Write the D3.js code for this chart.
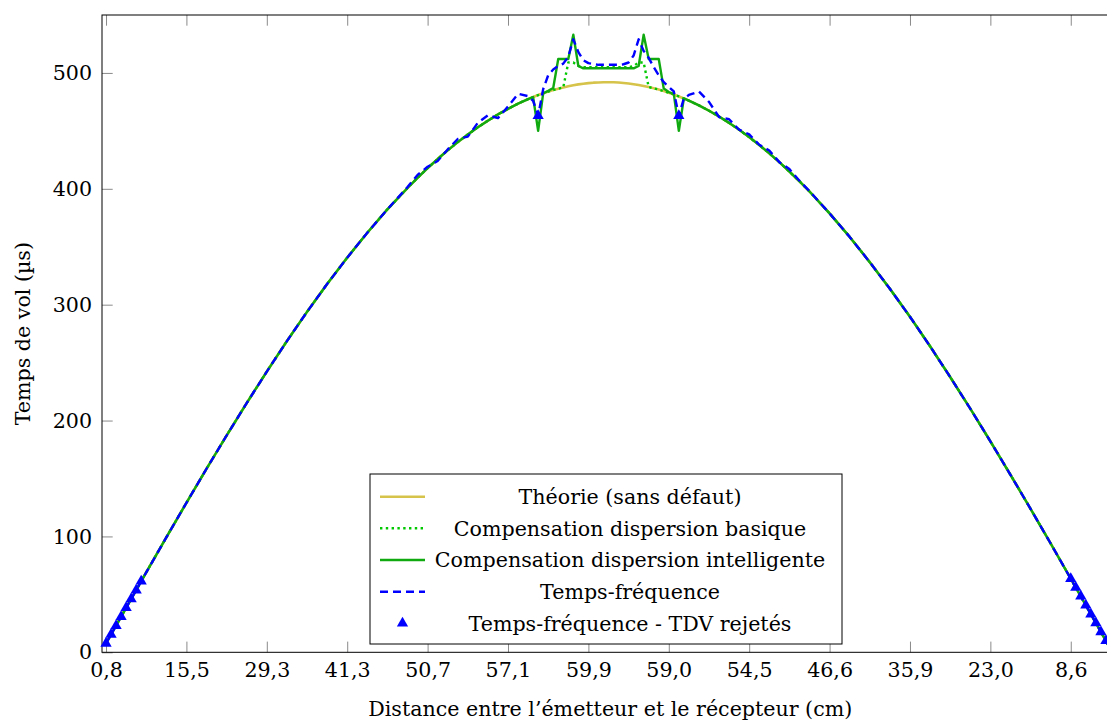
<!DOCTYPE html>
<html><head><meta charset="utf-8">
<script src="https://cdn.jsdelivr.net/npm/d3@7"></script>
<style>
body{margin:0;background:#fff}
svg{display:block}
text{font-family:"DejaVu Serif",serif;fill:#000}
</style>
</head><body>
<svg id="c" width="1107" height="722"></svg>
<script>
// ---- data (sample index along the scan, time of flight in µs) ----
const idx = [0,4,8,12,16,20,24,28,32,36,40,44,48,52,56,
  60,62,64,66,68,70,72,74,76,78,80,82,84,
  85,86,87,88,89,90,91,92,93,94,95,96,97,98,99,100,101,102,103,104,105,106,107,108,109,110,111,112,113,114,115,116,
  118,120,122,124,126,128,130,132,134,136,138,140,
  144,148,152,156,160,164,168,172,176,180,184,188,192,196,200];

const theorie = [7.7,38.4,68.9,99.1,129.0,158.4,187.1,215.1,242.3,268.6,293.8,317.8,340.6,362.1,382.3,
  400.7,409.5,417.8,425.7,433.2,440.3,446.9,453.1,458.8,464.2,469.0,473.5,477.4,
  479.2,480.9,482.4,483.9,485.2,486.4,487.5,488.5,489.4,490.1,490.7,491.2,491.6,491.8,492.0,492.0,491.9,491.7,491.3,490.9,490.3,489.6,488.8,487.8,486.8,485.6,484.3,482.9,481.4,479.7,477.9,476.1,
  472.0,467.4,462.4,456.9,451.0,444.6,437.8,430.6,423.0,414.9,406.5,397.7,
  378.8,358.5,336.7,313.7,289.6,264.1,237.6,210.3,182.1,153.2,123.8,93.9,63.5,32.9,2.2];

const basique = [7.7,38.4,68.9,99.1,129.0,158.4,187.1,215.1,242.3,268.6,293.8,317.8,340.6,362.1,382.3,
  400.7,409.5,417.8,425.7,433.2,440.3,446.9,453.1,458.8,464.2,469.0,473.5,477.4,
  479.2,480.9,482.4,483.9,485.2,486.4,487.5,509,509,506,505,505,505,505,505,505,505,505,505,505,506,509,509,487.8,486.8,485.6,484.3,482.9,481.4,479.7,477.9,476.1,
  472.0,467.4,462.4,456.9,451.0,444.6,437.8,430.6,423.0,414.9,406.5,397.7,
  378.8,358.5,336.7,313.7,289.6,264.1,237.6,210.3,182.1,153.2,123.8,93.9,63.5,32.9,2.2];

const intelligente = [7.7,38.4,68.9,99.1,129.0,158.4,187.1,215.1,242.3,268.6,293.8,317.8,340.6,362.1,382.3,
  400.7,409.5,417.8,425.7,433.2,440.3,446.9,453.1,458.8,464.2,469.0,473.5,477.4,
  479.2,450,482.4,484.5,487,512,512,512,533,506,504,504,504,504,504,504,504,504,504,504,504,506,533,512,512,512,486.5,483.5,482,450,478,476.1,
  472.0,467.4,462.4,456.9,451.0,444.6,437.8,430.6,423.0,414.9,406.5,397.7,
  378.8,358.5,336.7,313.7,289.6,264.1,237.6,210.3,182.1,153.2,123.8,93.9,63.5,32.9,2.2];

const tempsFrequence = [7.7,38.4,68.9,99.1,129.0,158.4,187.1,215.1,242.3,268.6,293.8,317.8,340.6,362.1,382.3,
  401.5,412,419,424,434,443,445,457,463.5,461,471,482,480,
  476,463,486,498,503,506,508,514,529,518,511,508.5,507.5,507,507,507,507,507,507.5,509,515,529,519,513,505,498,492,488,484,463,478,481,
  484,475,462,460,451,447,438,433,423,417,407,398,
  378.8,358.5,336.7,313.7,289.6,264.1,237.6,210.3,182.1,153.2,123.8,93.9,63.5,32.9,2.2];

const rejetesIdx = [0,1,2,3,4,5,6,7,86,114,192,193,194,195,196,197,198,199];
const rejetesVal = [7.7,15.4,23.0,30.7,38.4,46.0,53.6,61.3,463,463,63.5,55.9,48.3,40.7,32.9,25.3,17.6,10.0];

const xTickIdx = [0,16,32,48,64,80,96,112,128,144,160,176,192];
const xTickLabels = ["0,8","15,5","29,3","41,3","50,7","57,1","59,9","59,0","54,5","46,6","35,9","23,0","8,6"];
const yTicks = [0,100,200,300,400,500];

const legendLabels = ["Théorie (sans défaut)","Compensation dispersion basique","Compensation dispersion intelligente","Temps-fréquence","Temps-fréquence - TDV rejetés"];
const xTitle = "Distance entre l’émetteur et le récepteur (cm)";
const yTitle = "Temps de vol (µs)";

// ---- drawing ----
const svg = d3.select("#c");
const L = 102, T = 15, R = 1118.5, B = 652.3;
const x = d3.scaleLinear().domain([-0.8, 201.5]).range([L, R]);
const y = d3.scaleLinear().domain([0, 550]).range([B, T]);
const tickLen = 10.7, tickCol = "#8a8a8a", fs = 20.6;

// axes (ticks inward)
const gx = svg.append("g").attr("transform", `translate(0,${B})`)
  .call(d3.axisBottom(x).tickValues(xTickIdx).tickFormat((d,i)=>xTickLabels[i]).tickSize(-tickLen).tickPadding(10));
const gxt = svg.append("g").attr("transform", `translate(0,${T})`)
  .call(d3.axisTop(x).tickValues(xTickIdx).tickFormat("").tickSize(-tickLen));
const gy = svg.append("g").attr("transform", `translate(${L},0)`)
  .call(d3.axisLeft(y).tickValues(yTicks).tickSize(-tickLen).tickPadding(10));
const gyr = svg.append("g").attr("transform", `translate(${R},0)`)
  .call(d3.axisRight(y).tickValues(yTicks).tickFormat("").tickSize(-tickLen));
[gx,gxt,gy,gyr].forEach(g=>{
  g.select(".domain").remove();
  g.selectAll(".tick line").attr("stroke", tickCol).attr("stroke-width", 1);
  g.selectAll(".tick text").attr("font-family","DejaVu Serif").attr("font-size", fs).attr("fill","#000");
});

// frame
svg.append("rect").attr("x", L).attr("y", T).attr("width", R-L).attr("height", B-T)
  .attr("fill","none").attr("stroke","#000").attr("stroke-width",1);

const line = d3.line().x((d,i)=>x(idx[i])).y(d=>y(d));
const series = [
  {v: theorie, color:"#d6c34a", w:2.6, dash:null},
  {v: basique, color:"#00c800", w:2.4, dash:"2.4,3.4"},
  {v: intelligente, color:"#10aa10", w:2.4, dash:null},
  {v: tempsFrequence, color:"#0000ff", w:2.4, dash:"8,5"}
];
series.forEach(s=>{
  svg.append("path").datum(s.v).attr("d", line)
    .attr("fill","none").attr("stroke", s.color).attr("stroke-width", s.w)
    .attr("stroke-linejoin","round")
    .attr("stroke-dasharray", s.dash);
});

const tri = d3.symbol().type(d3.symbolTriangle).size(55);
svg.append("g").selectAll("path").data(rejetesIdx).join("path")
  .attr("d", tri)
  .attr("transform", (d,i)=>`translate(${x(d)},${y(rejetesVal[i])})`)
  .attr("fill","#0000ff");

// axis titles
svg.append("text").attr("x", (L+R)/2).attr("y", 716).attr("text-anchor","middle")
  .attr("font-size", fs).text(xTitle);
svg.append("text").attr("transform", `translate(30,${(T+B)/2}) rotate(-90)`).attr("text-anchor","middle")
  .attr("font-size", fs).text(yTitle);

// legend
const lg = svg.append("g");
lg.append("rect").attr("x",370).attr("y",474).attr("width",472).attr("height",170)
  .attr("fill","#fff").attr("stroke","#000").attr("stroke-width",1);
const rowY = [496.7,528.3,560,591.7,623.3];
legendLabels.forEach((lab,i)=>{
  const yy = rowY[i];
  if (i < 4) {
    const s = series[i];
    lg.append("line").attr("x1",380).attr("x2",425).attr("y1",yy).attr("y2",yy)
      .attr("stroke", s.color).attr("stroke-width", s.w).attr("stroke-dasharray", s.dash);
  } else {
    lg.append("path").attr("d", tri).attr("transform", `translate(402.5,${yy})`).attr("fill","#0000ff");
  }
  lg.append("text").attr("x",630).attr("y",yy).attr("dy","0.35em").attr("text-anchor","middle")
    .attr("font-size", fs).text(lab);
});
</script>
</body></html>
